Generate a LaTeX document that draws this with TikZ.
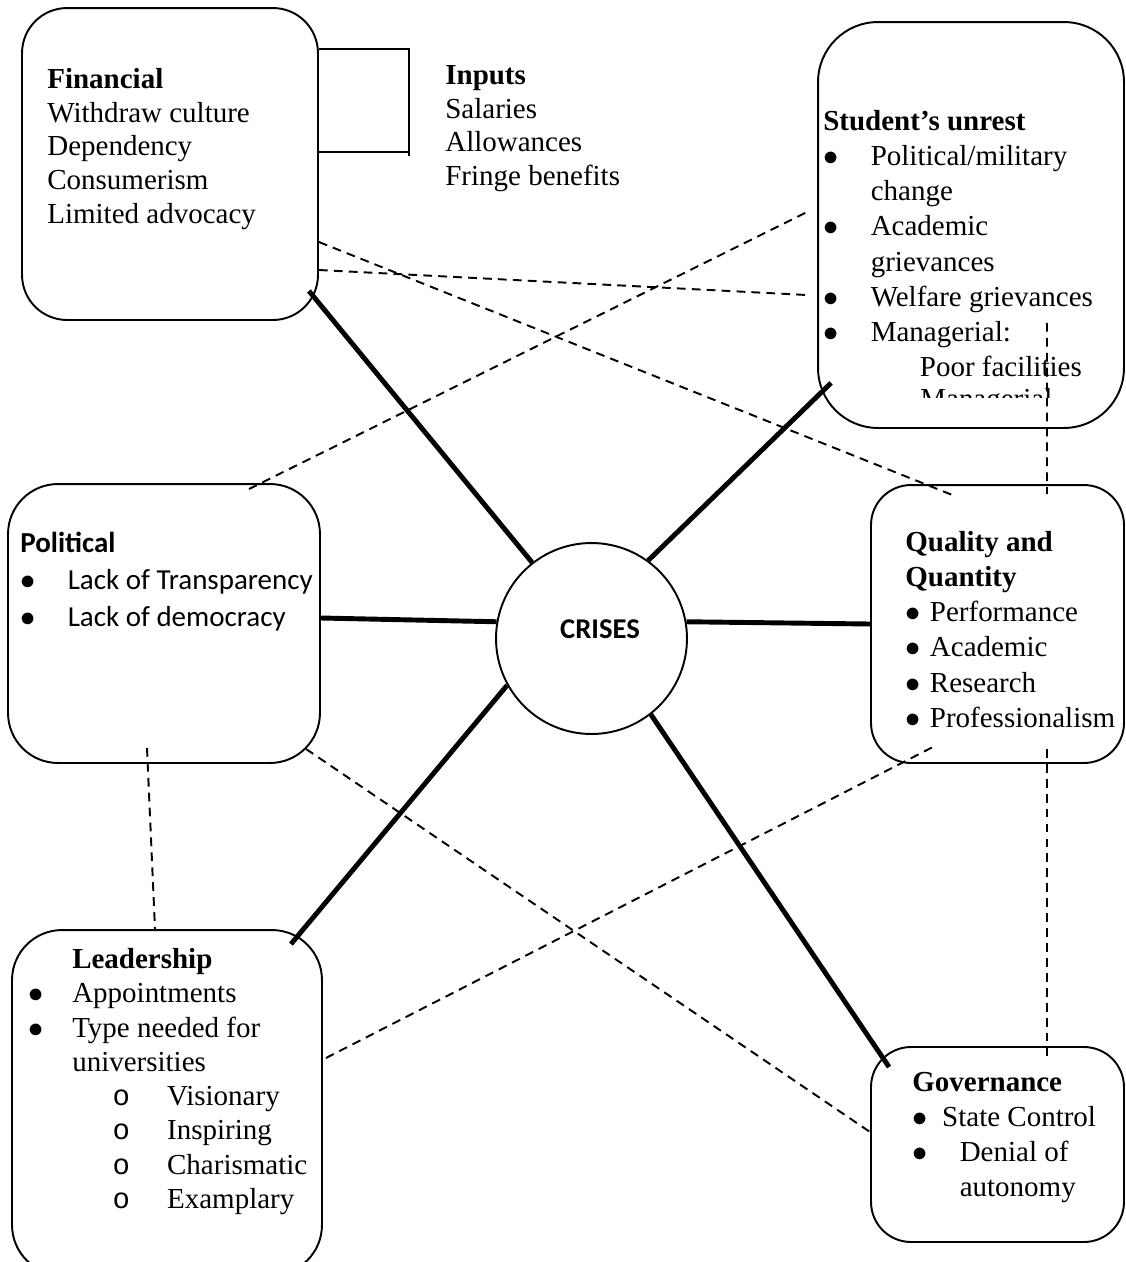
\documentclass[tikz,border=0pt]{standalone}
\usepackage{fontspec}
\setmainfont{Liberation Serif}
\newfontfamily\calib{Carlito}
\newfontfamily\monof{Liberation Mono}
\newcommand{\bul}[1]{\makebox[#1][l]{$\bullet$}}
\newcommand{\subb}[1]{\makebox[#1][l]{\monof o}}

\begin{document}
\begin{tikzpicture}[x=0.02cm,y=-0.02cm]
    \tikzstyle{every node}+=[inner sep=0pt]
    \tikzstyle{box}=[draw=black, line width=1.1pt]
    \tikzstyle{txt}=[anchor=north west, align=left, font=\fontsize{16.5}{19.2}\selectfont]
    \tikzstyle{spoke}=[black, line width=2.8pt]
    \tikzstyle{link}=[black, line width=1.1pt, dash pattern=on 5pt off 3.5pt]
    \useasboundingbox (0,0) rectangle (1126,1262);
    \node [box, rounded corners=0.9cm, minimum width=5.92cm, minimum height=6.24cm] (fin) at (170,164) {};
    \node [box, rounded corners=1.2cm, minimum width=6.12cm, minimum height=8.12cm] (stu) at (971,225) {};
    \node [box, rounded corners=1cm, minimum width=6.24cm, minimum height=5.58cm] (pol) at (164,623.5) {};
    \node [box, rounded corners=0.8cm, minimum width=5.06cm, minimum height=5.56cm] (qua) at (997.5,624) {};
    \node [box, rounded corners=1cm, minimum width=6.2cm, minimum height=6.9cm] (lea) at (167,1102.5) {};
    \node [box, rounded corners=0.8cm, minimum width=5.06cm, minimum height=3.9cm] (gov) at (997.5,1144.5) {};
    \node [box, circle, minimum size=3.82cm] (crises) at (591.5,638.5) {};
    \node [font=\calib\bfseries\fontsize{16.3}{19}\selectfont] (crisestext) at (600,629) {CRISES};
    \node [txt] (fintext) at (47,68) {\textbf{Financial}\\Withdraw culture\\Dependency\\Consumerism\\Limited advocacy};
    \node [txt] (inputs) at (445,65) {\textbf{Inputs}\\Salaries\\Allowances\\Fringe benefits};
    \node [txt, font=\fontsize{16.5}{20}\selectfont] (stutext) at (823,110) {\textbf{Student’s unrest}\\\bul{27pt}Political/military\\\hspace*{27pt}change\\\bul{27pt}Academic\\\hspace*{27pt}grievances\\\bul{27pt}Welfare grievances\\\bul{27pt}Managerial:\\\hspace*{55pt}Poor facilities};
    \begin{scope}
        \clip (900,380) rectangle (1110,397);
        \node [anchor=base west, font=\fontsize{16.5}{20}\selectfont] (managerial) at (920,408) {Managerial};
    \end{scope}
    \node [txt, font=\calib\fontsize{16.5}{21}\selectfont] (poltext) at (20,532) {\textbf{Political}\\\bul{27pt}Lack of Transparency\\\bul{27pt}Lack of democracy};
    \node [txt, font=\fontsize{16.5}{20}\selectfont] (quatext) at (905,531) {\textbf{Quality and}\\\textbf{Quantity}\\\bul{14pt}Performance\\\bul{14pt}Academic\\\bul{14pt}Research\\\bul{14pt}Professionalism};
    \node [txt, font=\fontsize{16.5}{19.5}\selectfont] (leatext) at (28,948) {\hspace*{25pt}\textbf{Leadership}\\\bul{25pt}Appointments\\\bul{25pt}Type needed for\\\hspace*{25pt}universities\\\hspace*{48pt}\subb{31pt}Visionary\\\hspace*{48pt}\subb{31pt}Inspiring\\\hspace*{48pt}\subb{31pt}Charismatic\\\hspace*{48pt}\subb{31pt}Examplary};
    \node [txt, font=\fontsize{16.5}{20}\selectfont] (govtext) at (912,1072) {\textbf{Governance}\\\bul{17pt}State Control\\\bul{27pt}Denial of\\\hspace*{27pt}autonomy};
    \draw [black, line width=1.1pt] ([shift={(0,42)}]fin.north east) -| ([shift={(90,149)}]fin.north east);
    \draw [black, line width=1.1pt] ([shift={(0,145)}]fin.north east) -- ++(90,0);
    \draw [spoke] ([shift={(-10,-30)}]fin.south east) -- (crises.128);
    \draw [spoke] ([shift={(14,-46)}]stu.south west) -- (crises.54);
    \draw [spoke] ([shift={(0,-5.5)}]pol.east) -- (crises.170);
    \draw [spoke] (qua.west) -- (crises.10);
    \draw [spoke] ([shift={(-32,15)}]lea.north east) -- (crises.209);
    \draw [spoke] ([shift={(19,21)}]gov.north west) -- (crises.-52);
    \draw [link] ([shift={(0,78)}]fin.east) -- ([shift={(-42.5,12)}]qua.north);
    \draw [link] ([shift={(0,106)}]fin.east) -- ([shift={(-10,70)}]stu.west);
    \draw [link] ([shift={(-72,6)}]pol.north east) -- ([shift={(-10,-13)}]stu.west);
    \draw [link] ([shift={(-15,-15)}]pol.south east) -- ([shift={(0,-12.5)}]gov.west);
    \draw [link] ([shift={(-17,-16)}]pol.south) -- ([shift={(-12,0)}]lea.north);
    \draw [link] ([shift={(3,-44.5)}]lea.east) -- ([shift={(-62.5,-18)}]qua.south);
    \draw [link] ([shift={(76,-106)}]stu.south) -- ([shift={(49.5,10)}]qua.north);
    \draw [link] ([shift={(49.5,-15)}]qua.south) -- ([shift={(49.5,10)}]gov.north);
\end{tikzpicture}
\end{document}
